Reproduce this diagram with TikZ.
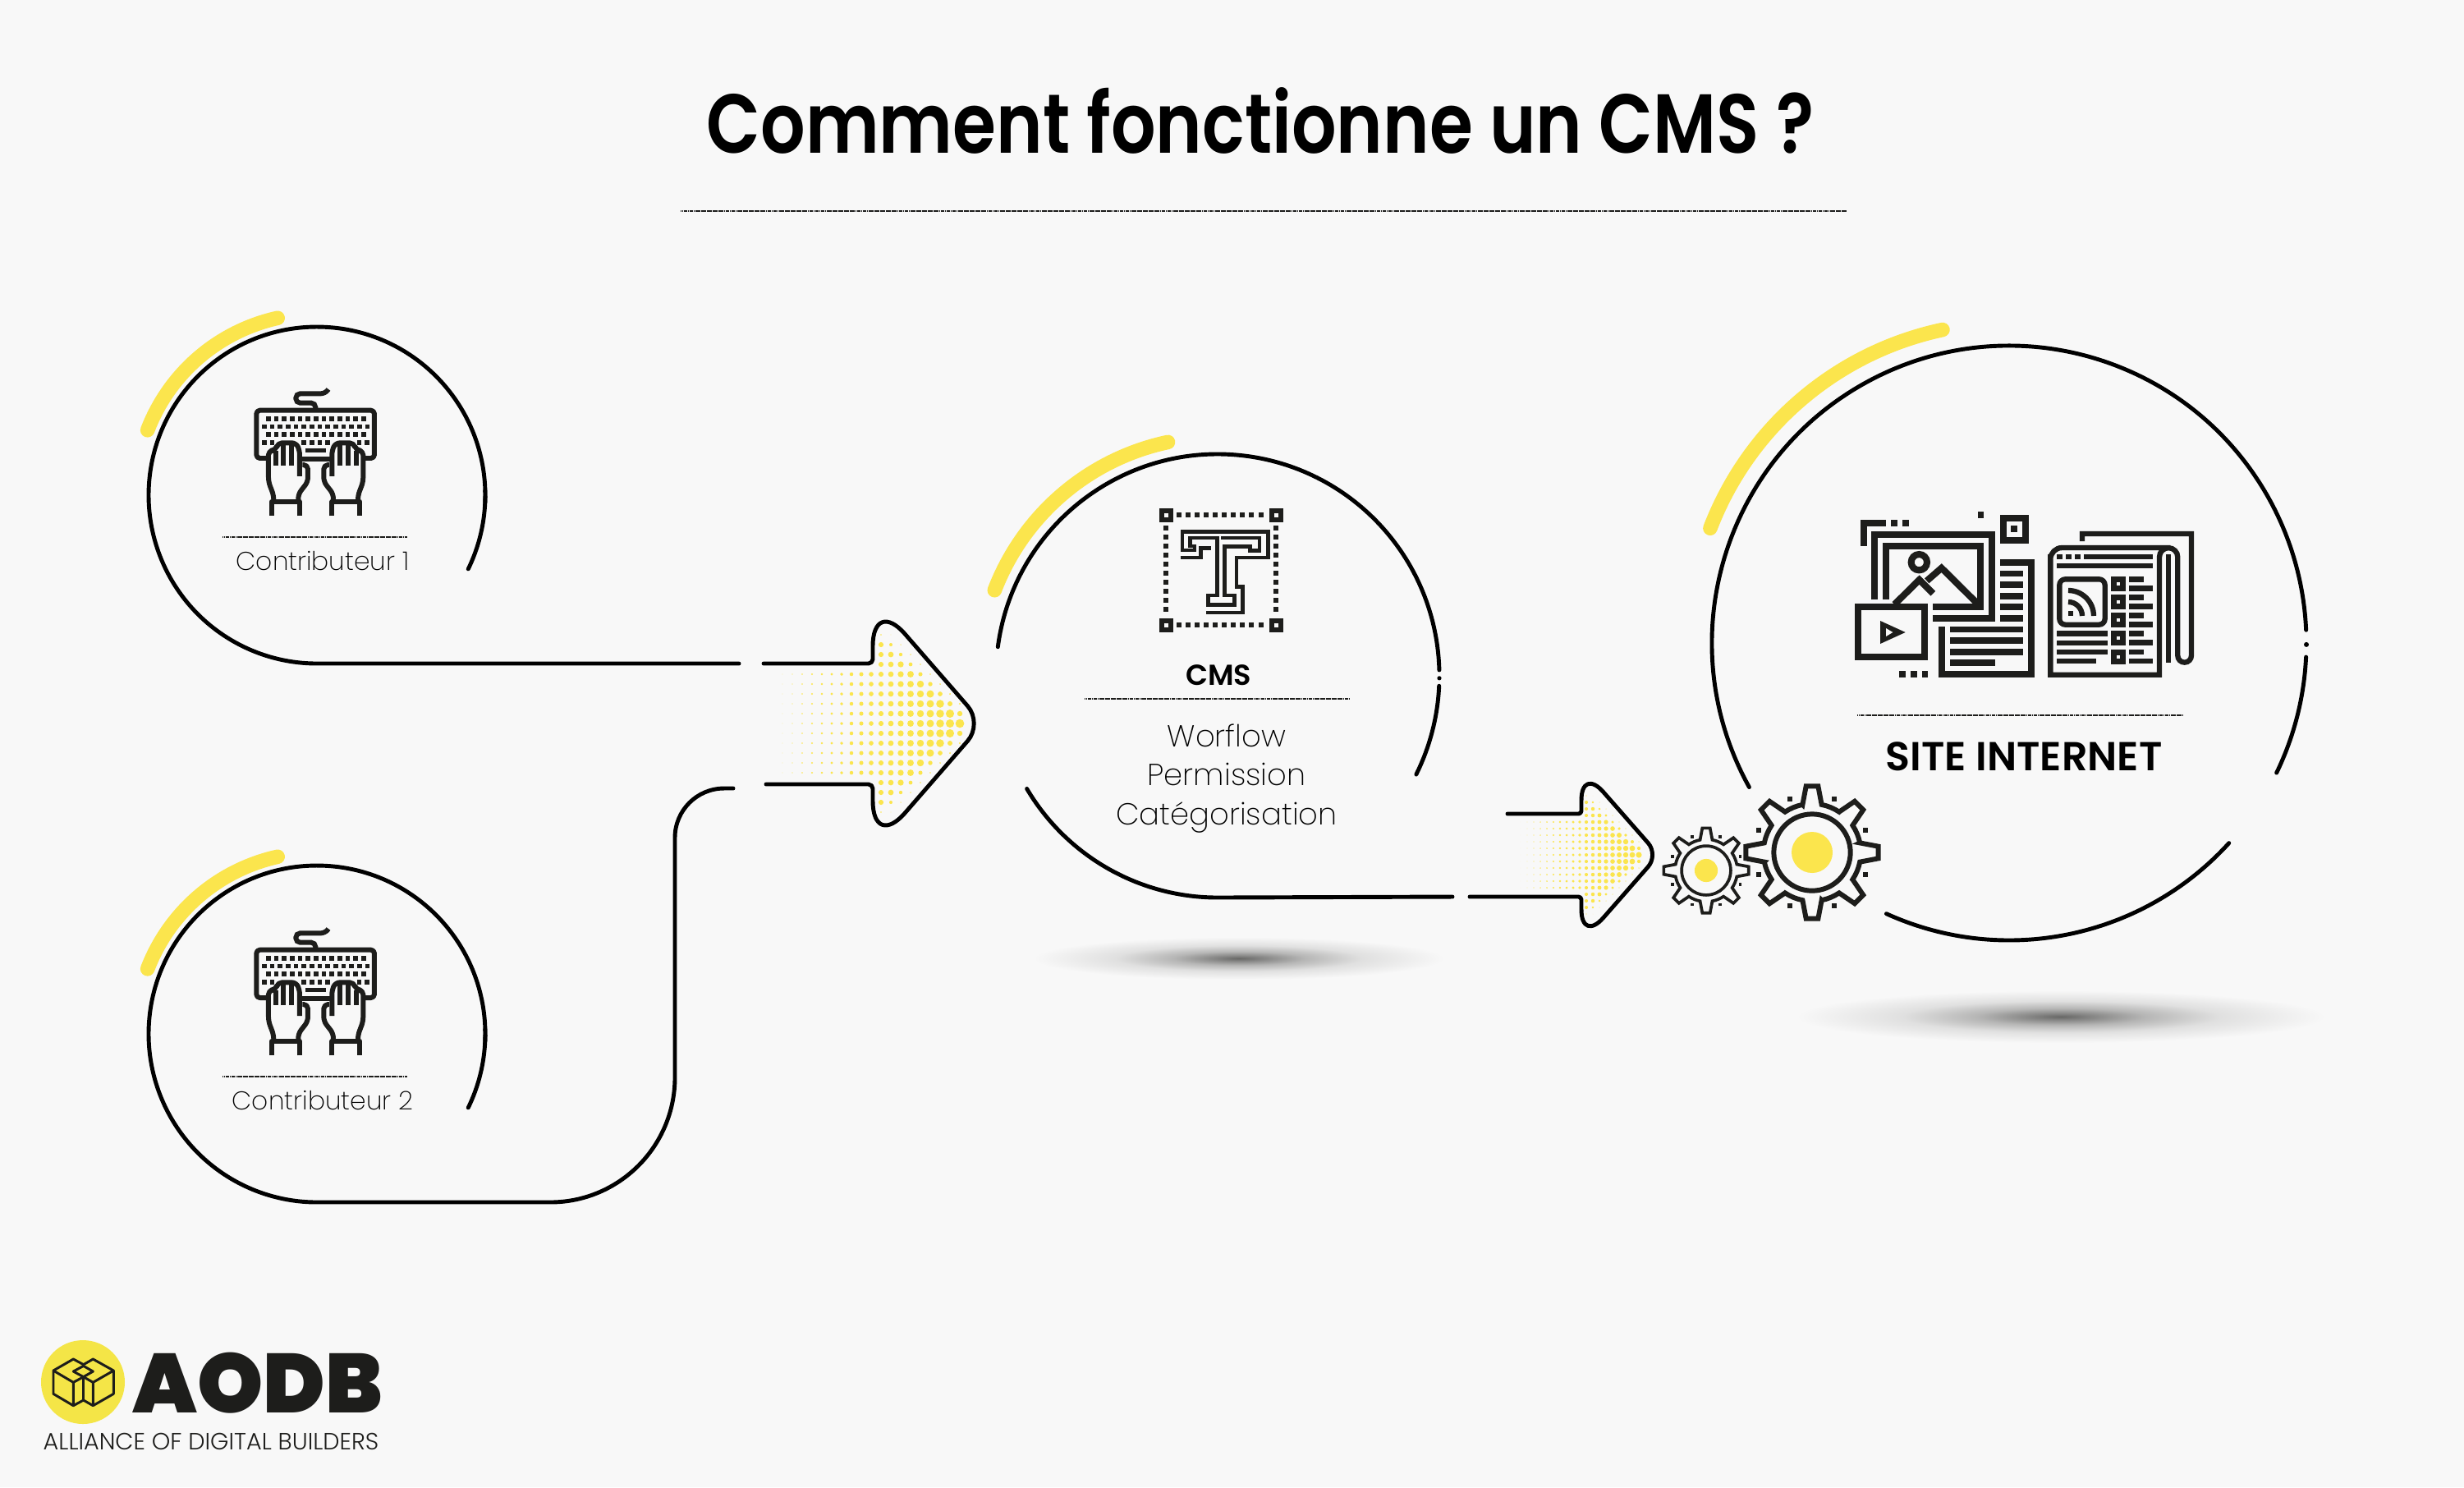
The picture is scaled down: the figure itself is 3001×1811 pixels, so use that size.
\documentclass[tikz,border=0pt]{standalone}
\usepackage{fontspec}
\usetikzlibrary{positioning, calc}
\newfontfamily\headfont{Poppins}[UprightFont=* SemiBold, FakeStretch=0.84]
\newfontfamily\logofont{Poppins}[UprightFont=* SemiBold]
\newfontfamily\thinfont{Poppins}[UprightFont=* ExtraLight]
\newfontfamily\lightfont{Poppins}[UprightFont=* Light]
\definecolor{bgcol}{HTML}{F8F8F8}
\definecolor{yellowcol}{HTML}{FBE54D}
\definecolor{logocol}{HTML}{F4E547}
\definecolor{inkcol}{HTML}{1D1D1B}
\pgfdeclareradialshading{shadowfade}{\pgfpoint{0bp}{0bp}}{color(0bp)=(inkcol!66!bgcol); color(3bp)=(inkcol!52!bgcol); color(8bp)=(inkcol!30!bgcol); color(15bp)=(inkcol!11!bgcol); color(25bp)=(bgcol)}
\newcommand{\drawhand}{
    \draw[ink, line join=round] (645,805) -- (645,752) -- (543,752) -- (543,805);
    \draw[ink, line join=round, rounded corners=1.5pt] (550,750) -- (550,730) -- (531,680) -- (531,566) -- (557,566) -- (565,538) -- (632,538) -- (645,566) -- (645,660);
    \draw[ink] (557,566) -- (557,622) (586,545) -- (586,622) (615,545) -- (615,622);
    \draw[ink, line join=round, rounded corners=1.5pt] (655,618) -- (675,618) -- (675,680) -- (640,725) -- (640,750);
}

\begin{document}
\begin{tikzpicture}[
    x=0.01cm, y=-0.01cm,
    ring/.style={draw=black, line width=1.4pt, line cap=round, line join=round},
    halo/.style={draw=yellowcol, line width=5pt, line cap=round},
    hairline/.style={draw=inkcol, line width=0.35pt, dash pattern=on 0.4pt off 0.1pt},
    ink/.style={draw=inkcol, line width=1.7pt},
    label/.style={font=\thinfont\fontsize{8.9}{12}\selectfont, text=black, inner sep=0pt},
    biglabel/.style={font=\logofont\fontsize{14}{17}\selectfont, text=black, inner sep=0pt},
    pics/halftone/.style={code={
        \foreach \j in {0,...,18} \foreach \k in {-9,...,9} {
            \pgfmathtruncatemacro{\sumjk}{\j+abs(\k)}
            \pgfmathsetmacro{\dotr}{(0.3+0.28*\j)*(\sumjk<=18 ? 1 : (\sumjk==19 ? 0.6 : (\sumjk==20 ? 0.2 : 0)))*(abs(\k)==9 ? 0.5 : 1)*(((\j<10) && (abs(\k)>5)) ? 0 : 1)}
            \ifdim\dotr pt>0pt \fill[yellowcol] (12*\j,12*\k) circle[radius=\dotr]; \fi
        }
    }},
    pics/keyboard/.style={code={
        \draw[ink, line join=round, rounded corners=1.2pt] (531,594) -- (487,594) -- (487,419) -- (918,419) -- (918,594) -- (877,594);
        \draw[ink] (648,597) -- (760,597);
        \draw[ink, rounded corners=1.5pt] (703,415) -- (703,392) -- (631,392) -- (631,358) -- (738,358) -- (750,342);
        \foreach \x in {530,559,...,880} { \fill[inkcol] (\x-8,442) rectangle ++(17,16); \fill[inkcol] (\x-8,499) rectangle ++(17,16); }
        \foreach \x in {515,544,...,895} { \fill[inkcol] (\x-8,471) rectangle ++(17,16); }
        \foreach \x in {515,544,660,689,718,747,862,891} { \fill[inkcol] (\x-8,529) rectangle ++(17,16); }
        \fill[inkcol] (667,558) rectangle (742,573);
        \drawhand
        \begin{scope}[shift={(1408,0)}, xscale=-1]
            \drawhand
        \end{scope}
    }},
    pics/gear/.style 2 args={code={
        \draw[draw=inkcol, line width=#2, line join=miter]
            (-11.3:178) \foreach \a in {0,45,...,315} { -- (\a-11.3:178) -- (\a-5.2:243) -- (\a+5.2:243) -- (\a+11.3:178) arc[start angle=\a+11.3, end angle=\a+33.7, radius=178] } -- cycle;
        \draw[draw=inkcol, line width=#2] (0,0) circle[radius=140];
        \fill[yellowcol] (0,0) circle[radius=#1];
        \foreach \a in {22.5,67.5,...,337.5} { \fill[inkcol] (\a:210) ++(-9,-9) rectangle ++(18,18); }
    }}
]

% Background
\fill[bgcol] (0,0) rectangle (3001,1811);

% Title
\node[font=\headfont\fontsize{29}{36}\selectfont, text=black, inner sep=0pt] (title) at (1535,147) {Comment fonctionne un CMS ?};
\coordinate (ruleL) at (829,257);
\coordinate (ruleR) at (2249,257);
\draw[hairline] (ruleL) -- (ruleR);

% Centres
\coordinate (user1) at (386,603);
\coordinate (user2) at (386,1259);
\coordinate (cms) at (1483,823);
\coordinate (site) at (2447,783);

% Shadows
\shade[shading=shadowfade] (1509,1167) ellipse[x radius=250, y radius=26];
\shade[shading=shadowfade] (2510,1238) ellipse[x radius=322, y radius=32];

% Yellow arcs
\draw[halo] (user1) ++(201:221) arc[start angle=201, end angle=257.5, radius=221];
\draw[halo] (user2) ++(201:221) arc[start angle=201, end angle=257.5, radius=221];
\draw[halo] (cms) ++(201:291) arc[start angle=201, end angle=258, radius=291];
\draw[halo] (site) ++(201:390) arc[start angle=201, end angle=258, radius=390];

% Halftone in arrows
\pic (dotsA) at (953,881) {halftone};
\pic[scale=0.6667] (dotsB) at (1852,1041) {halftone};

% First contributor circle and its line
\coordinate (end1) at (900,808);
\draw[ring] (user1) ++(26:205) arc[start angle=26, end angle=-1.6, radius=205];
\fill[black] (user1) ++(0.6:205) circle[radius=2.6];
\draw[ring] (user1) ++(2.8:205) arc[start angle=2.8, end angle=-270, radius=205] -- (end1);

% Second contributor circle and its line
\coordinate (end2) at (893,960);
\draw[ring] (user2) ++(26:205) arc[start angle=26, end angle=-1.6, radius=205];
\fill[black] (user2) ++(0.6:205) circle[radius=2.6];
\draw[ring] (user2) ++(2.8:205) arc[start angle=2.8, end angle=-270, radius=205] -- (670,1464) arc[start angle=90, end angle=0, radius=152] -- (822,1020) arc[start angle=180, end angle=270, radius=60] -- (end2);

% Arrow to the CMS
\coordinate (inA) at (930,808);
\coordinate (neckA) at (1063,808);
\coordinate (topA) at (1063,727);
\coordinate (tipA) at (1197,881);
\coordinate (botA) at (1063,1035);
\coordinate (neckB) at (1063,955);
\coordinate (outA) at (933,955);
\draw[ring] (inA) [rounded corners=1.5pt] -- (neckA) [rounded corners=17pt] -- (topA) [rounded corners=8pt] -- (tipA) [rounded corners=17pt] -- (botA) [rounded corners=1.5pt] -- (neckB) -- (outA);

% CMS circle
\coordinate (end3) at (1769,1092);
\draw[ring] (cms) ++(187.5:270) arc[start angle=187.5, end angle=358.5, radius=270];
\fill[black] (cms) ++(0.6:270) circle[radius=2.6];
\draw[ring] (cms) ++(2.6:270) arc[start angle=2.6, end angle=26.4, radius=270];
\draw[ring] (cms) ++(149.4:270) arc[start angle=149.4, end angle=90, radius=270] -- (end3);

% Arrow to the site
\coordinate (inC) at (1836,991);
\coordinate (neckC) at (1926,991);
\coordinate (topC) at (1926,934);
\coordinate (tipC) at (2020,1041);
\coordinate (botC) at (1926,1148);
\coordinate (neckD) at (1926,1092);
\coordinate (outC) at (1790,1092);
\draw[ring] (inC) [rounded corners=1pt] -- (neckC) [rounded corners=11.5pt] -- (topC) [rounded corners=5.5pt] -- (tipC) [rounded corners=11.5pt] -- (botC) [rounded corners=1pt] -- (neckD) -- (outC);

% Site circle
\draw[ring] (site) ++(151:362) arc[start angle=151, end angle=357.5, radius=362];
\fill[black] (site) ++(0.3:362) circle[radius=3];
\draw[ring] (site) ++(2.7:362) arc[start angle=2.7, end angle=25.9, radius=362];
\draw[ring] (site) ++(114.4:362) arc[start angle=114.4, end angle=42.3, radius=362];

% Gears
\pic[scale=0.3333] (bigGear) at (2207,1038) {gear={75}{1.7pt}};
\pic[scale=0.2135] (smallGear) at (2078,1060) {gear={66}{1.05pt}};

% Contributors
\pic (keysA) at (150,360) [scale=0.3333] {keyboard};
\pic (keysB) at (150,1017) [scale=0.3333] {keyboard};
\draw[hairline] (271,654) -- (496,654);
\draw[hairline] (271,1311) -- (496,1311);
\node[label] (nameA) at (393,683) {Contributeur 1};
\node[label] (nameB) at (393,1340) {Contributeur 2};

% CMS content
\begin{scope}[shift={(1340,600)}, scale=0.3333]
    \foreach \x/\y in {216/57, 618/57, 216/459, 618/459} {
        \fill[inkcol] (\x,\y) rectangle ++(51,51);
        \fill[bgcol] (\x+18,\y+18) rectangle ++(15,15);
    }
    \foreach \x in {279,312,345,378,411,444,477,510,543,579} {
        \fill[inkcol] (\x,72) rectangle ++(18,18);
        \fill[inkcol] (\x,474) rectangle ++(18,18);
    }
    \foreach \y in {120,153,186,219,252,285,318,351,384,418} {
        \fill[inkcol] (231,\y) rectangle ++(18,18);
        \fill[inkcol] (633,\y) rectangle ++(18,18);
    }
    \begin{scope}[draw=inkcol, line width=1.4pt, line join=miter]
        \draw (300,210) -- (300,142) -- (613,142) -- (613,237) -- (498,237) -- (498,343) -- (520,343) -- (520,438) -- (387,438);
        \draw (293,237) -- (367,237) -- (367,203) -- (405,203);
        \draw (293,210) -- (345,210) -- (345,195) -- (328,195) -- (328,165) -- (427,165) -- (427,375) -- (395,375) -- (395,410) -- (490,410) -- (490,375) -- (455,375) -- (455,197) -- (547,197) -- (547,212) -- (582,212) -- (582,165) -- (440,165);
    \end{scope}
\end{scope}
\node[biglabel, font=\logofont\fontsize{10}{13}\selectfont] (cmsName) at (1484,822) {CMS};
\draw[hairline] (1321,851) -- (1644,851);
\node[label, font=\thinfont\fontsize{10.5}{13.5}\selectfont, align=center] (cmsList) at (1494,948) {Worflow\\Permission\\Catégorisation};

% Site content
\begin{scope}[shift={(2200,600)}, scale=0.3333]
    \begin{scope}[draw=inkcol, line width=2.3pt, line join=miter]
        \draw (210,195) -- (210,111) -- (291,111);
        \draw (720,93) rectangle (801,174);
        \draw (249,390) -- (249,153) -- (678,153) -- (678,459) -- (462,459);
        \draw (291,390) -- (291,194) -- (637,194) -- (637,417) -- (462,417);
        \draw (412,254) circle[radius=29];
        \draw (322,408) -- (413,318) -- (463,368);
        \draw (440,322) -- (494,275) -- (625,405);
        \draw[fill=bgcol] (189,417) rectangle (432,600);
        \draw (708,255) -- (822,255) -- (822,663) -- (495,663) -- (495,489);
    \end{scope}
    \fill[inkcol] (270,468) -- (270,552) -- (362,510) -- cycle;
    \fill[bgcol] (291,495) -- (291,525) -- (316,510) -- cycle;
    \foreach \x/\y/\w/\h in {309/99/24/24, 351/99/24/24, 627/69/21/24, 747/120/24/24, 339/651/24/24, 381/651/24/24, 423/651/21/24,
        708/285/84/21, 708/324/84/24, 708/366/84/24, 708/405/84/24, 708/447/84/24,
        525/489/267/21, 525/528/267/24, 525/570/267/24, 525/609/165/24} {
        \fill[inkcol] (\x,\y) rectangle ++(\w,\h);
    }
    \begin{scope}[draw=inkcol, line width=1.8pt]
        \draw (1008,177) -- (1008,150) -- (1407,150) -- (1407,595) arc[start angle=0, end angle=180, radius=25] -- (1357,235) arc[start angle=0, end angle=-180, radius=33.5] -- (1290,665) -- (892,665) -- (892,225) [rounded corners=4pt] -- (892,201) -- (1330,201);
        \draw (1322,225) -- (1322,622);
        \draw[rounded corners=2pt] (925,316) rectangle (1091,482);
        \draw (957,399) arc[start angle=-90, end angle=0, radius=51];
        \draw (957,357) arc[start angle=-90, end angle=0, radius=93];
    \end{scope}
    \foreach \x/\y/\w/\h in {915/225/21/18, 948/225/21/18, 981/225/21/18, 1014/225/252/18, 915/258/351/18, 957/432/18/18,
        915/504/186/21, 915/540/186/18, 915/573/186/18, 915/606/144/18,
        1179/306/54/21, 1179/339/87/21, 1179/372/54/21, 1179/405/87/21, 1179/438/54/21, 1179/471/87/21, 1179/504/54/21, 1179/537/87/21, 1179/573/54/18, 1179/606/87/18} {
        \fill[inkcol] (\x,\y) rectangle ++(\w,\h);
    }
    \foreach \y in {306,372,438,504,573} {
        \fill[inkcol] (1113,\y) rectangle ++(54,54);
        \fill[bgcol] (1134,\y+21) rectangle ++(12,12);
    }
\end{scope}
\draw[hairline] (2262,871) -- (2658,871);
\node[biglabel] (siteName) at (2465,921) {SITE INTERNET};

% Logo
\fill[logocol] (101,1683) circle[radius=51] coordinate (logo);
\begin{scope}[shift={(30,1610)}, scale=0.3333, draw=inkcol, line width=0.85pt, line join=round]
    \draw (105,177) -- (178,135) -- (215,155) -- (250,135) -- (325,177) -- (325,262) -- (250,305) -- (215,285) -- (178,305) -- (105,262) -- cycle;
    \draw (105,177) -- (178,220) -- (178,305) (178,220) -- (215,200) -- (250,220) -- (250,305) (250,220) -- (325,177);
    \draw (178,180) -- (215,160) -- (250,180) -- (215,200) -- cycle;
    \draw (215,200) -- (215,285);
\end{scope}
\node[font=\logofont\bfseries\fontsize{29}{30}\selectfont, text=inkcol, inner sep=0pt] (aodb) at (314,1684) {AODB};
\node[font=\lightfont\fontsize{8.15}{9}\selectfont, text=inkcol, inner sep=0pt] (alliance) at (257,1755) {ALLIANCE OF DIGITAL BUILDERS};

\end{tikzpicture}
\end{document}
